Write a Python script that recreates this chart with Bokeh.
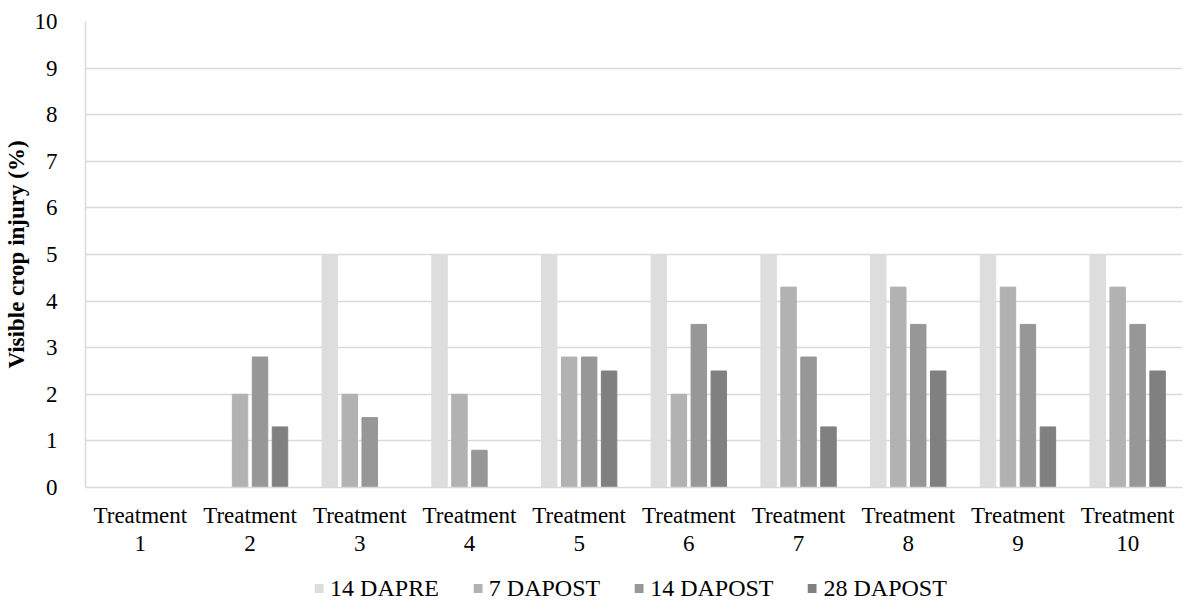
from bokeh.plotting import figure
from bokeh.layouts import column
from bokeh.models import ColumnDataSource, FactorRange, Legend, LegendItem, SingleIntervalTicker
from bokeh.transform import dodge
from bokeh.embed import file_html
from bokeh.resources import INLINE

categories = ["Treatment\n1", "Treatment\n2", "Treatment\n3", "Treatment\n4", "Treatment\n5",
              "Treatment\n6", "Treatment\n7", "Treatment\n8", "Treatment\n9", "Treatment\n10"]
series_names = ["14 DAPRE", "7 DAPOST", "14 DAPOST", "28 DAPOST"]
dapre14 = [0, 0, 5, 5, 5, 5, 5, 5, 5, 5]
dapost7 = [0, 2.0, 2.0, 2.0, 2.8, 2.0, 4.3, 4.3, 4.3, 4.3]
dapost14 = [0, 2.8, 1.5, 0.8, 2.8, 3.5, 2.8, 3.5, 3.5, 3.5]
dapost28 = [0, 1.3, 0, 0, 2.5, 2.5, 1.3, 2.5, 1.3, 2.5]
colors = ["#DDDDDD", "#B2B2B2", "#979797", "#808080"]

FONT = "Liberation Serif"

source = ColumnDataSource(dict(cat=categories, s0=dapre14, s1=dapost7, s2=dapost14, s3=dapost28))

p = figure(x_range=FactorRange(*categories, range_padding=0), y_range=(0, 10),
           frame_width=1097, frame_height=466,
           output_backend="svg", toolbar_location=None,
           min_border_left=78, min_border_top=21, min_border_right=2, min_border_bottom=87)
p.outline_line_color = None

offsets = [-0.273, -0.091, 0.091, 0.273]
for i, (col, off) in enumerate(zip(colors, offsets)):
    p.vbar(x=dodge("cat", off, range=p.x_range), top="s%d" % i, width=0.141,
           source=source, fill_color=col, line_color=col)

p.yaxis.ticker = SingleIntervalTicker(interval=1)
p.ygrid.grid_line_color = "#D9D9D9"
p.ygrid.grid_line_width = 1.5
p.xgrid.grid_line_color = None

for ax in (p.xaxis[0], p.yaxis[0]):
    ax.axis_line_color = "#D9D9D9"
    ax.axis_line_width = 1.5
    ax.major_tick_line_color = None
    ax.minor_tick_line_color = None
    ax.major_label_text_font = FONT
    ax.major_label_text_font_size = "23px"
    ax.major_label_text_color = "#000000"

p.yaxis.major_label_standoff = 22
p.yaxis.axis_label = "Visible crop injury (%)"
p.yaxis.axis_label_text_font = FONT
p.yaxis.axis_label_text_font_size = "23px"
p.yaxis.axis_label_text_font_style = "bold"
p.yaxis.axis_label_text_color = "#000000"
p.yaxis.axis_label_standoff = 3

p.xaxis.major_label_standoff = 9
p.xaxis.major_label_text_line_height = 1.15
p.xaxis.major_label_orientation = "horizontal"

# legend strip below the chart (swatch renderers sit outside the visible range)
lg = figure(width=1177, height=28, x_range=(0, 1), y_range=(0, 1),
            output_backend="svg", toolbar_location=None,
            min_border_left=0, min_border_right=0, min_border_top=0, min_border_bottom=0)
lg.outline_line_color = None
lg.axis.visible = False
lg.grid.visible = False
items = []
for name, col in zip(series_names, colors):
    r = lg.vbar(x=[0.5], bottom=[-3], top=[-2], width=0.1, fill_color=col, line_color=None)
    items.append(LegendItem(label=name, renderers=[r]))
legend = Legend(items=items, orientation="horizontal", location="center",
                label_text_font=FONT, label_text_font_size="24px", label_text_color="#000000",
                glyph_width=11, glyph_height=11, spacing=33, label_standoff=6,
                border_line_color=None, background_fill_alpha=0, margin=0, padding=0)
lg.add_layout(legend)

layout = column(p, lg, spacing=0)
open("out.html", "w").write(file_html(layout, INLINE))
